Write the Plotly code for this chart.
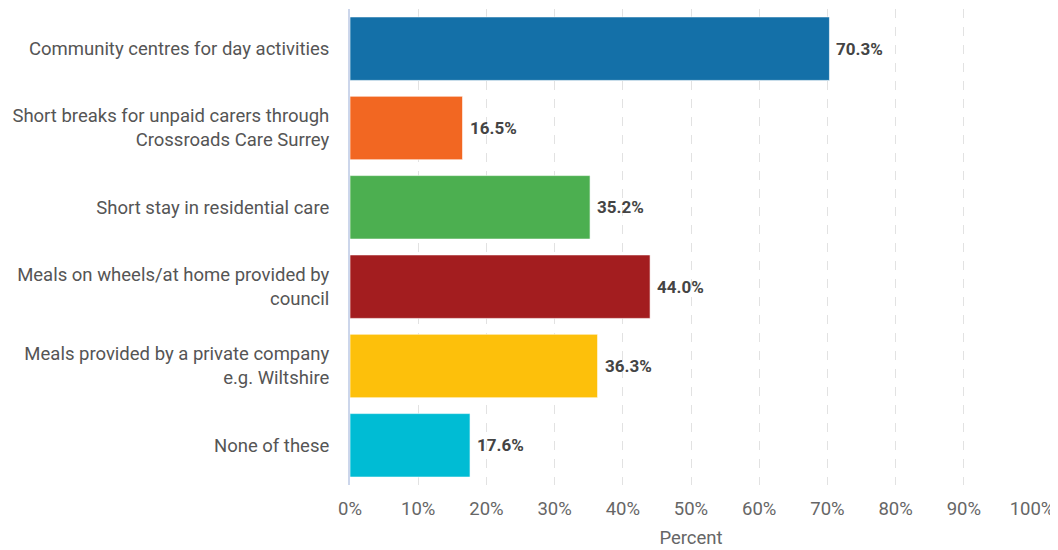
import plotly.graph_objects as go

categories = [
    "Community centres for day activities",
    "Short breaks for unpaid carers through<br>Crossroads Care Surrey",
    "Short stay in residential care",
    "Meals on wheels/at home provided by<br>council",
    "Meals provided by a private company<br>e.g. Wiltshire",
    "None of these",
]
values = [70.3, 16.5, 35.2, 44.0, 36.3, 17.6]
colors = ["#1470a8", "#f26722", "#4caf50", "#a31d1f", "#fdc00b", "#00bcd4"]
tick_vals = [0, 10, 20, 30, 40, 50, 60, 70, 80, 90, 100]
tick_text = [f"{v}%" for v in tick_vals]
labels = [f"{v:.1f}%" for v in values]

fig = go.Figure(go.Bar(
    x=values,
    y=categories,
    orientation="h",
    marker=dict(color=colors, line=dict(color="rgba(255,255,255,0.6)", width=1)),
    width=0.8,
    hoverinfo="skip",
))

for v, c, t in zip(values, categories, labels):
    fig.add_annotation(
        x=v, y=c, text=t, showarrow=False,
        xanchor="left", xshift=5,
        font=dict(family="Roboto", size=17, color="#444444", weight="bold"),
    )

fig.update_layout(
    width=1050, height=542,
    margin=dict(l=342, r=26, t=1, b=65),
    paper_bgcolor="white", plot_bgcolor="white",
    font=dict(family="Roboto", size=18.5, color="#555555"),
    showlegend=False,
    bargap=0.2,
    xaxis=dict(
        range=[0, 100],
        automargin=False,
        tickvals=tick_vals, ticktext=tick_text,
        showgrid=True, gridcolor="#e2e2e2", griddash="dash", gridwidth=1,
        zeroline=False, showline=False,
        tickfont=dict(family="Roboto", size=18.5, color="#666666"),
        ticklabelstandoff=10,
        title=dict(text="Percent", font=dict(family="Roboto", size=18.5, color="#666666"), standoff=12),
    ),
    yaxis=dict(
        autorange="reversed",
        automargin=False,
        showline=True, linecolor="#ccd6eb", linewidth=2,
        showgrid=False, zeroline=False,
        ticks="",
        ticklabelstandoff=15,
        tickfont=dict(family="Roboto", size=18.5, color="#555555"),
    ),
)

fig.write_html("out.html")
